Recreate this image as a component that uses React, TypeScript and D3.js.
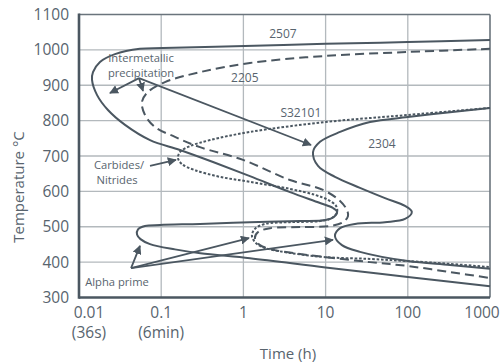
import React from 'react';
import * as d3 from 'd3';

type P = [number, number];

const xTicks = [0.01, 0.1, 1, 10, 100, 1000];
const xTickLabels = ['0.01', '0.1', '1', '10', '100', '1000'];
const xTickSubLabels = ['(36s)', '(6min)', '', '', '', ''];
const yTicks = [300, 400, 500, 600, 700, 800, 900, 1000, 1100];

// [time (h), temperature (°C)]
const curve2507: P[] = [
  [1000, 1028], [100, 1022], [10, 1017], [1.04, 1011], [0.105, 1005], [0.055, 1003],
  [0.0274, 988], [0.018, 966], [0.0148, 937], [0.0144, 915], [0.0166, 872], [0.0225, 830],
  [0.0363, 788], [0.0731, 745], [0.169, 717], [0.427, 683], [1.2, 643], [3.69, 598],
  [8.55, 567], [12.3, 553], [13.8, 542], [12.7, 528], [10, 519], [4.88, 516], [1.2, 513],
  [0.296, 508], [0.0966, 505], [0.0635, 502], [0.052, 492], [0.0508, 478], [0.056, 465],
  [0.0731, 451], [0.147, 436], [0.3, 425], [1.2, 411], [10, 385], [100, 358], [1000, 332],
];

const curve2304: P[] = [
  [1000, 836], [326, 824], [100, 810], [34.7, 796], [15, 768], [8.55, 740], [7.03, 711],
  [8.09, 672], [13, 641], [26.2, 610], [52.8, 581], [92.5, 559], [112, 542], [92.5, 522],
  [52.8, 513], [22.8, 508], [15, 496], [13, 474], [15.8, 448], [26.2, 429], [100, 403],
  [326, 392], [1000, 381],
];

const curve2205: P[] = [
  [1000, 1003], [100, 994], [10, 983], [1.2, 963], [0.296, 937], [0.111, 909], [0.069, 881],
  [0.0583, 853], [0.0635, 816], [0.0841, 782], [0.147, 754], [0.296, 725], [0.99, 689],
  [3.69, 632], [9.3, 604], [15, 573], [18.2, 547], [18.7, 530], [16.3, 513], [11.3, 502],
  [4.88, 499], [2.11, 496], [1.51, 485], [1.38, 468], [1.59, 448], [2.42, 434], [4.88, 423],
  [10, 414], [34.7, 400], [100, 389], [326, 372], [1000, 355],
];

const curveS32101: P[] = [
  [1000, 836], [100, 816], [10, 796], [1.2, 768], [0.393, 745], [0.224, 728], [0.169, 711],
  [0.16, 694], [0.179, 677], [0.258, 660], [0.519, 641], [1.2, 627], [3.69, 607], [7.43, 590],
  [10.7, 576], [13.4, 559], [13.8, 542], [12, 525], [8.55, 516], [3.69, 513], [1.83, 508],
  [1.38, 494], [1.27, 474], [1.42, 454], [1.83, 440], [3.69, 426], [10, 414], [34.7, 409],
  [100, 403], [326, 395], [1000, 386],
];

const seriesNames = ['2507', '2304', '2205', 'S32101'];
const seriesCurves = [curve2507, curve2304, curve2205, curveS32101];
const seriesDash = ['', '', '9 5', '2.6 1.8'];

// curve labels: [time, temp]
const curveLabelPos: P[] = [[3.03, 1034], [48.5, 723], [1.04, 909], [5.0, 810]];

// annotation arrows: [from, to]
const arrows: [P, P][] = [
  [[0.0537, 920], [0.0238, 878]],
  [[0.0537, 920], [0.0601, 884]],
  [[0.0537, 920], [6.64, 731]],
  [[0.0731, 672], [0.151, 689]],
  [[0.043, 383], [0.0552, 446]],
  [[0.043, 383], [1.17, 468]],
  [[0.043, 383], [12.3, 463]],
];

const annotationTexts = ['Intermetallic', 'precipitation', 'Carbides/', 'Nitrides', 'Alpha prime'];
const annotationPos: P[] = [[0.0568, 966], [0.0568, 924], [0.0307, 663], [0.029, 620], [0.029, 332]];

const INK = '#4b5761';
const TEXT = '#58646e';
const GRID = '#b3b9bd';
const FONT = '"Open Sans", "Noto Sans", sans-serif';

export default function App() {
  const W = 500;
  const H = 363;
  const x = d3.scaleLog().domain([0.01, 1000]).range([79, 490]);
  const y = d3.scaleLinear().domain([300, 1100]).range([297.5, 14.5]);
  const line = d3
    .line<P>()
    .x((d) => x(d[0]))
    .y((d) => y(d[1]))
    .curve(d3.curveCatmullRom.alpha(0.5));

  const [x0, x1] = x.range();
  const [y0, y1] = y.range();

  return (
    <svg
      width={W}
      height={H}
      viewBox={`0 0 ${W} ${H}`}
      style={{ position: 'absolute', left: 0, top: 0, background: '#fff' }}
      fontFamily={FONT}
    >
      <defs>
        <marker id="ah" viewBox="0 0 10 10" refX="9" refY="5" markerWidth="9" markerHeight="9" markerUnits="userSpaceOnUse" orient="auto">
          <path d="M0,0 L10,5 L0,10 z" fill={INK} />
        </marker>
      </defs>
      {/* grid */}
      {xTicks.slice(1, -1).map((t) => (
        <line key={'gx' + t} x1={x(t)} x2={x(t)} y1={y1} y2={y0} stroke={GRID} strokeWidth={1.3} />
      ))}
      {yTicks.slice(1, -1).map((t) => (
        <line key={'gy' + t} x1={x0} x2={x1} y1={y(t)} y2={y(t)} stroke={GRID} strokeWidth={1.3} />
      ))}
      {/* frame */}
      <line x1={x0} x2={x1} y1={y1} y2={y1} stroke="#6a747c" strokeWidth={1.6} />
      <line x1={x1} x2={x1} y1={y1} y2={y0} stroke="#6a747c" strokeWidth={1.6} />
      <line x1={x0} x2={x1} y1={y0} y2={y0} stroke={INK} strokeWidth={2.6} />
      <line x1={x0} x2={x0} y1={y1 - 1} y2={y0 + 1.3} stroke={INK} strokeWidth={2.6} />

      {/* curves */}
      {seriesCurves.map((c, i) => (
        <path
          key={seriesNames[i]}
          d={line(c) || ''}
          fill="none"
          stroke={INK}
          strokeWidth={2}
          strokeDasharray={seriesDash[i] || undefined}
        />
      ))}

      {/* arrows */}
      {arrows.map(([a, b], i) => (
        <line key={'ar' + i} x1={x(a[0])} y1={y(a[1])} x2={x(b[0])} y2={y(b[1])} stroke={INK} strokeWidth={1.8} markerEnd="url(#ah)" />
      ))}

      {/* curve labels */}
      {seriesNames.map((n, i) => (
        <text key={'lab' + n} x={x(curveLabelPos[i][0])} y={y(curveLabelPos[i][1])} textAnchor="middle" fontSize={12} fill={TEXT}>
          {n}
        </text>
      ))}
      {annotationTexts.map((t, i) => (
        <text key={'an' + i} x={x(annotationPos[i][0])} y={y(annotationPos[i][1])} textAnchor="middle" fontSize={11.2} fill={TEXT}>
          {t}
        </text>
      ))}

      {/* y tick labels */}
      {yTicks.map((t) => (
        <text key={'yt' + t} x={69} y={y(t) + 5.5} textAnchor="end" fontSize={15.5} fill={TEXT}>
          {t}
        </text>
      ))}
      {/* x tick labels */}
      {xTicks.map((t, i) => {
        const dx = i === 0 ? 10 : i === xTicks.length - 1 ? -8 : 0;
        return (
          <g key={'xt' + t}>
            <text x={x(t) + dx} y={318} textAnchor="middle" fontSize={15.5} fill={TEXT}>
              {xTickLabels[i]}
            </text>
            {xTickSubLabels[i] && (
              <text x={x(t) + dx} y={338} textAnchor="middle" fontSize={15.5} fill={TEXT}>
                {xTickSubLabels[i]}
              </text>
            )}
          </g>
        );
      })}
      {/* axis titles */}
      <text x={288} y={359} textAnchor="middle" fontSize={15} fill={TEXT}>
        Time (h)
      </text>
      <text transform="translate(24,187) rotate(-90)" textAnchor="middle" fontSize={15} fill={TEXT}>
        Temperature °C
      </text>
    </svg>
  );
}
